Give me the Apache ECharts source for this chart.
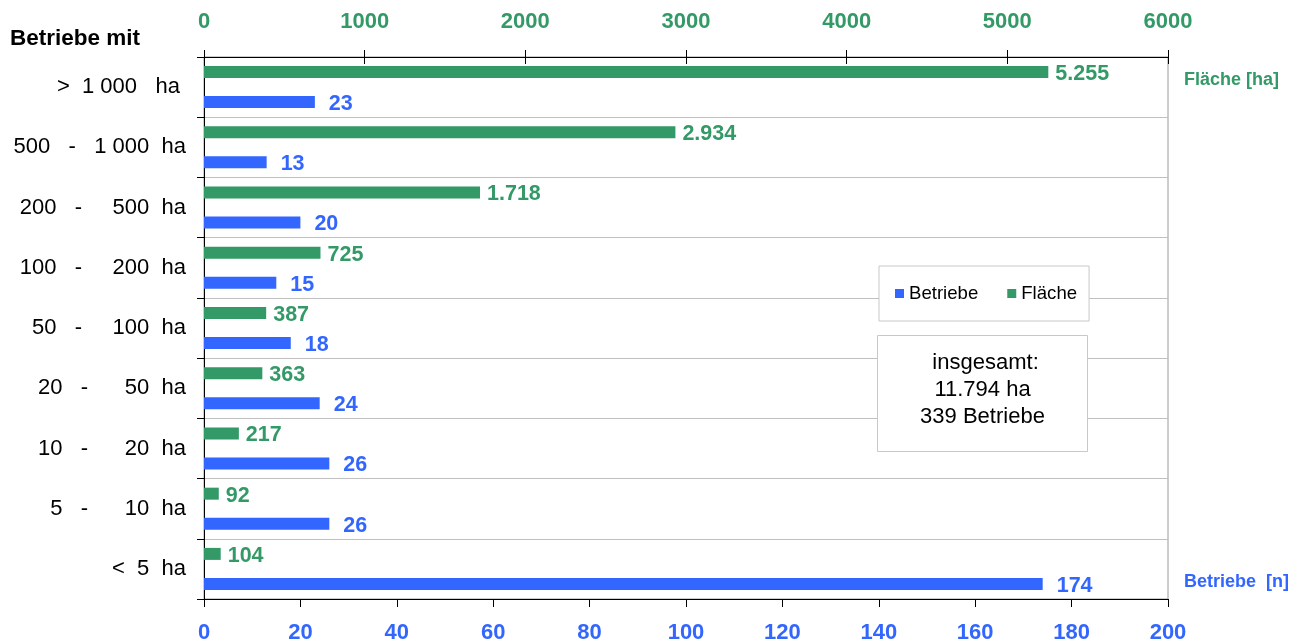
<!DOCTYPE html>
<html>
<head>
<meta charset="utf-8">
<script src="https://cdn.jsdelivr.net/npm/echarts@6/dist/echarts.min.js"></script>
<style>
  html, body { margin: 0; padding: 0; background: #ffffff; }
  #chart { width: 1308px; height: 644px; }
</style>
</head>
<body>
<div id="chart"></div>
<script>
// Size classes of farms, listed top to bottom
const sizeClasses = [
  '>  1 000   ha ',
  '500   -   1 000  ha',
  '200   -     500  ha',
  '100   -     200  ha',
  '50   -     100  ha',
  '20   -      50  ha',
  '10   -      20  ha',
  '5   -      10  ha',
  '<  5  ha'
];
// Area per size class [ha]
const flaecheHa = [5255, 2934, 1718, 725, 387, 363, 217, 92, 104];
// Number of farms per size class [n]
const betriebeN = [23, 13, 20, 15, 18, 24, 26, 26, 174];
// Axis scales
const flaecheAxis = { min: 0, max: 6000, interval: 1000 };
const betriebeAxis = { min: 0, max: 200, interval: 20 };
// Totals box
const totalLines = [' insgesamt:', '11.794 ha', '339 Betriebe'];

const GREEN = '#339966';
const BLUE = '#3366FF';
const FONT = "'Liberation Sans', Arial, sans-serif";

function thousands(v) {
  return String(v).replace(/\B(?=(\d{3})+(?!\d))/g, '.');
}

const chart = echarts.init(document.getElementById('chart'), null, { renderer: 'canvas' });

const option = {
  backgroundColor: '#ffffff',
  animation: false,
  textStyle: { fontFamily: FONT },
  grid: {
    left: 204, right: 140, top: 57, bottom: 45,
    show: true, borderColor: '#9a9a9a', borderWidth: 1, backgroundColor: 'transparent'
  },
  legend: {
    data: ['Betriebe', 'Fläche'],
    left: 879, top: 266,
    padding: [18, 12, 18, 16],
    itemWidth: 9, itemHeight: 9, itemGap: 29,
    icon: 'rect',
    backgroundColor: '#ffffff',
    borderColor: '#c8c8c8', borderWidth: 1,
    textStyle: { fontFamily: FONT, fontSize: 18.6, color: '#000000' }
  },
  xAxis: [
    {
      type: 'value', position: 'bottom',
      min: betriebeAxis.min, max: betriebeAxis.max, interval: betriebeAxis.interval,
      axisLine: { show: true, lineStyle: { color: '#000000', width: 1 } },
      axisTick: { show: true, length: 8, lineStyle: { color: '#000000' } },
      splitLine: { show: false },
      axisLabel: { margin: 23, color: BLUE, fontWeight: 'bold', fontSize: 22, fontFamily: FONT,
                   formatter: v => String(v) }
    },
    {
      type: 'value', position: 'top',
      min: flaecheAxis.min, max: flaecheAxis.max, interval: flaecheAxis.interval,
      axisLine: { show: true, lineStyle: { color: '#000000', width: 1 } },
      axisTick: { show: true, length: 7, lineStyle: { color: '#000000' } },
      splitLine: { show: false },
      axisLabel: { margin: 24, color: GREEN, fontWeight: 'bold', fontSize: 22, fontFamily: FONT,
                   formatter: v => String(v) }
    },
    {
      // inner half of the crossing ticks on the top axis
      type: 'value', position: 'top',
      min: flaecheAxis.min, max: flaecheAxis.max, interval: flaecheAxis.interval,
      axisLine: { show: false },
      axisTick: { show: true, inside: true, length: 7, lineStyle: { color: '#000000' } },
      splitLine: { show: false },
      axisLabel: { show: false }
    }
  ],
  yAxis: {
    type: 'category',
    data: sizeClasses,
    inverse: true,
    axisLine: { show: true, lineStyle: { color: '#000000', width: 1 } },
    axisTick: { show: true, length: 7, lineStyle: { color: '#000000' } },
    splitLine: { show: true, lineStyle: { color: '#c0c0c0', width: 1 } },
    axisLabel: { margin: 18, color: '#000000', fontSize: 22, fontFamily: FONT,
                 padding: [4, 0, 0, 0] }
  },
  series: [
    {
      name: 'Fläche', type: 'bar', xAxisIndex: 1, yAxisIndex: 0,
      data: flaecheHa,
      barWidth: 12, barGap: '150%',
      itemStyle: { color: GREEN },
      label: {
        show: true, position: 'right', distance: 7, offset: [0, 2],
        color: GREEN, fontWeight: 'bold', fontSize: 21.5, fontFamily: FONT,
        formatter: p => thousands(p.value)
      }
    },
    {
      name: 'Betriebe', type: 'bar', xAxisIndex: 0, yAxisIndex: 0,
      data: betriebeN,
      barWidth: 12, barGap: '150%',
      itemStyle: { color: BLUE },
      label: {
        show: true, position: 'right', distance: 14, offset: [0, 2],
        color: BLUE, fontWeight: 'bold', fontSize: 21.5, fontFamily: FONT,
        formatter: p => thousands(p.value)
      }
    }
  ],
  graphic: [
    {
      type: 'text', left: 10, top: 27,
      style: { text: 'Betriebe mit', fill: '#000000', font: "bold 22.5px " + FONT }
    },
    {
      type: 'text', left: 1184, top: 71,
      style: { text: 'Fläche [ha]', fill: GREEN, font: "bold 18px " + FONT }
    },
    {
      type: 'text', left: 1184, top: 573,
      style: { text: 'Betriebe  [n]', fill: BLUE, font: "bold 18px " + FONT }
    },
    {
      // totals box
      type: 'group', left: 877, top: 335, z: 100,
      children: [
        {
          type: 'rect', z: 100,
          shape: { x: 0, y: 0, width: 210, height: 116 },
          style: { fill: '#ffffff', stroke: '#c8c8c8', lineWidth: 1 }
        },
        {
          type: 'text', z: 101, x: 105, y: 14,
          style: {
            text: totalLines.join('\n'),
            fill: '#000000', font: "22px " + FONT,
            align: 'center', verticalAlign: 'top', lineHeight: 27
          }
        }
      ]
    }
  ]
};

chart.setOption(option);
</script>
</body>
</html>
